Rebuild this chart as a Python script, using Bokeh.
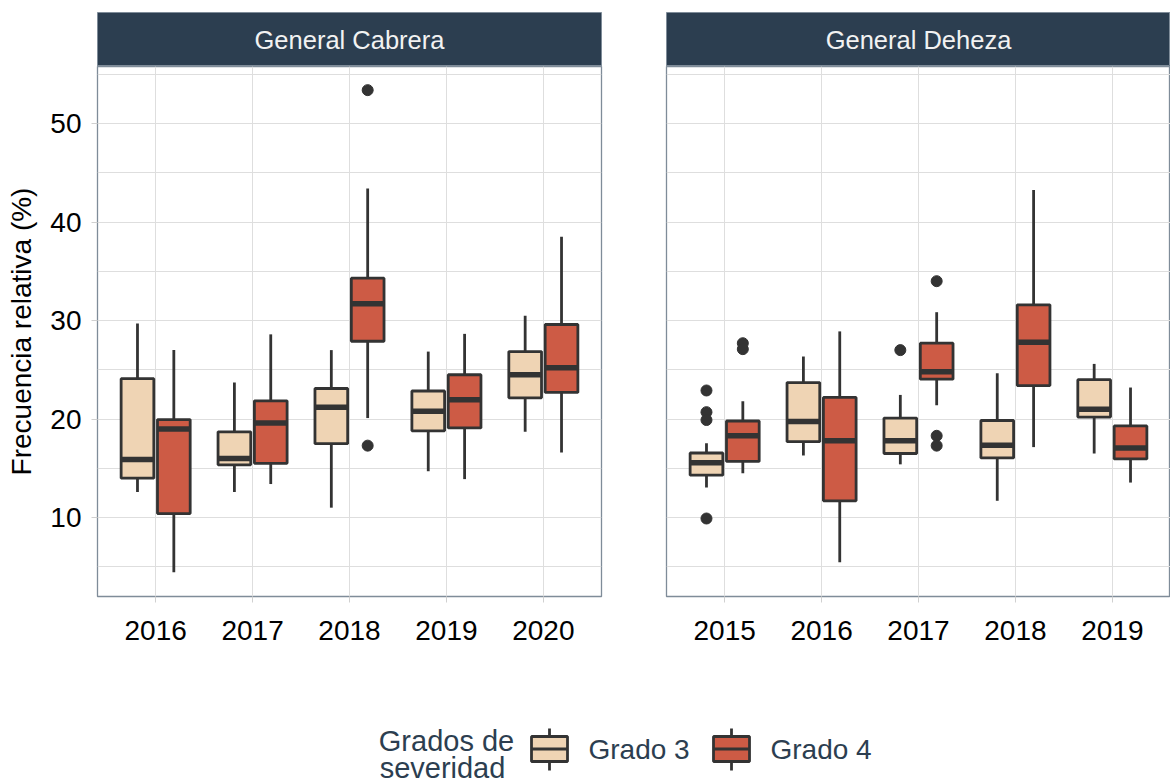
from bokeh.plotting import figure
from bokeh.models import FactorRange, Range1d, FixedTicker, ColumnDataSource
from bokeh.transform import dodge
from bokeh.layouts import column, row
from bokeh.core.properties import value
from bokeh.embed import file_html
from bokeh.resources import INLINE

FONT = "Liberation Sans"
C3 = "#EFD4B4"
C4 = "#CD5B45"
LINE = "#333333"
NAVY = "#2C3E50"
GRID = "#DEDEDE"
TICK = "#D0D0D0"
BORDER = "#7F8C99"

# ---------------- data ----------------
cab_years = ["2016", "2017", "2018", "2019", "2020"]
cab_g3_hi = [29.7, 23.7, 27.0, 26.85, 30.5]
cab_g3_q3 = [24.1, 18.7, 23.1, 22.85, 26.85]
cab_g3_med = [15.9, 16.0, 21.2, 20.8, 24.5]
cab_g3_q1 = [14.0, 15.35, 17.5, 18.8, 22.15]
cab_g3_lo = [12.6, 12.6, 11.0, 14.7, 18.7]
cab_g4_hi = [27.0, 28.6, 43.4, 28.65, 38.5]
cab_g4_q3 = [19.95, 21.85, 34.3, 24.5, 29.6]
cab_g4_med = [19.0, 19.6, 31.7, 21.95, 25.2]
cab_g4_q1 = [10.4, 15.5, 27.9, 19.1, 22.7]
cab_g4_lo = [4.45, 13.4, 20.1, 13.9, 16.6]
cab_g3_out_x = []
cab_g3_out_y = []
cab_g4_out_x = ["2018", "2018"]
cab_g4_out_y = [53.4, 17.3]

deh_years = ["2015", "2016", "2017", "2018", "2019"]
deh_g3_hi = [17.55, 26.35, 22.45, 24.65, 25.6]
deh_g3_q3 = [16.55, 23.7, 20.1, 19.85, 24.0]
deh_g3_med = [15.55, 19.75, 17.8, 17.35, 21.0]
deh_g3_q1 = [14.3, 17.7, 16.5, 16.05, 20.2]
deh_g3_lo = [13.05, 16.3, 15.4, 11.7, 16.5]
deh_g4_hi = [21.8, 28.9, 30.85, 43.25, 23.2]
deh_g4_q3 = [19.8, 22.2, 27.7, 31.6, 19.3]
deh_g4_med = [18.3, 17.8, 24.8, 27.8, 17.05]
deh_g4_q1 = [15.7, 11.7, 24.05, 23.4, 15.95]
deh_g4_lo = [14.5, 5.45, 21.4, 17.15, 13.55]
deh_g3_out_x = ["2015", "2015", "2015", "2015", "2017"]
deh_g3_out_y = [22.9, 20.7, 19.9, 9.9, 27.0]
deh_g4_out_x = ["2015", "2015", "2017", "2017", "2017"]
deh_g4_out_y = [27.7, 27.1, 34.0, 18.3, 17.3]

y_ticks = [10, 20, 30, 40, 50]
y_minor = [5, 15, 25, 35, 45, 55]
y_label = "Frecuencia relativa (%)"
facets = ["General Cabrera", "General Deheza"]
legend_title = ["Grados de", "severidad"]
legend_labels = ["Grado 3", "Grado 4"]

DODGE = 0.1875
BOXW = 0.3375
LW = 2.8


def make_panel(years, g3, g4, out3, out4, width, left, right, show_y):
    p = figure(x_range=FactorRange(factors=years, range_padding=0.1,
                                   range_padding_units="absolute"),
               y_range=Range1d(1.98, 55.8), width=width, height=634,
               output_backend="svg", toolbar_location=None,
               min_border_left=left, min_border_right=right,
               min_border_top=0, min_border_bottom=104,
               background_fill_color="white", border_fill_color="white")
    p.outline_line_color = BORDER
    p.outline_line_width = 1.3
    tk = FixedTicker(ticks=y_ticks, minor_ticks=y_minor)
    p.yaxis.ticker = tk
    p.ygrid.ticker = tk
    p.ygrid.grid_line_color = GRID
    p.ygrid.minor_grid_line_color = GRID
    p.xgrid.grid_line_color = GRID

    for ax in (p.xaxis, p.yaxis):
        ax.axis_line_color = None
        ax.minor_tick_line_color = None
        ax.major_tick_in = 0
        ax.major_tick_out = 6
        ax.major_tick_line_color = TICK
        ax.major_label_text_font = FONT
        ax.major_label_text_font_size = "28px"
        ax.major_label_text_color = "#000000"
    p.xaxis.major_label_standoff = 18
    p.yaxis.major_label_standoff = 10
    if show_y:
        p.yaxis.axis_label = y_label
        p.yaxis.axis_label_text_font = FONT
        p.yaxis.axis_label_text_font_size = "28px"
        p.yaxis.axis_label_text_font_style = "normal"
        p.yaxis.axis_label_text_color = "#000000"
        p.yaxis.axis_label_standoff = 10
    else:
        p.yaxis.visible = False

    for d, off, color, out in ((g3, -DODGE, C3, out3), (g4, DODGE, C4, out4)):
        lo, q1, med, q3, hi = d
        src = ColumnDataSource(dict(x=years, lo=lo, q1=q1, med=med, q3=q3, hi=hi))
        xd = dodge("x", off, range=p.x_range)
        p.segment(x0=xd, x1=xd, y0="hi", y1="q3", source=src,
                  line_color=LINE, line_width=LW)
        p.segment(x0=xd, x1=xd, y0="lo", y1="q1", source=src,
                  line_color=LINE, line_width=LW)
        p.vbar(x=xd, width=BOXW, top="q3", bottom="q1", source=src,
               fill_color=color, line_color=LINE, line_width=LW)
        p.segment(x0=dodge("x", off - BOXW / 2, range=p.x_range),
                  x1=dodge("x", off + BOXW / 2, range=p.x_range),
                  y0="med", y1="med", source=src,
                  line_color=LINE, line_width=5.5, line_cap="butt")
        ox, oy = out
        if ox:
            osrc = ColumnDataSource(dict(x=ox, y=oy))
            p.scatter(x=dodge("x", off, range=p.x_range), y="y", source=osrc,
                      size=11, fill_color=LINE, line_color=LINE)
    return p


def make_strip(name, width, left, right):
    s = figure(x_range=Range1d(0, 1), y_range=Range1d(0, 1), width=width, height=66,
               min_border_left=left, min_border_right=right, min_border_top=12,
               min_border_bottom=0, output_backend="svg", toolbar_location=None,
               x_axis_location=None, y_axis_location=None,
               background_fill_color=NAVY, border_fill_color="white")
    s.grid.visible = False
    s.outline_line_color = BORDER
    s.text(x=[0.5], y=[0.5], text=[name], text_align="center", text_baseline="middle",
           text_font=value(FONT), text_font_size="25.5px", text_color="#F2F2F2")
    return s


pL = make_panel(cab_years,
                (cab_g3_lo, cab_g3_q1, cab_g3_med, cab_g3_q3, cab_g3_hi),
                (cab_g4_lo, cab_g4_q1, cab_g4_med, cab_g4_q3, cab_g4_hi),
                (cab_g3_out_x, cab_g3_out_y), (cab_g4_out_x, cab_g4_out_y),
                633, 97, 32, True)
pR = make_panel(deh_years,
                (deh_g3_lo, deh_g3_q1, deh_g3_med, deh_g3_q3, deh_g3_hi),
                (deh_g4_lo, deh_g4_q1, deh_g4_med, deh_g4_q3, deh_g4_hi),
                (deh_g3_out_x, deh_g3_out_y), (deh_g4_out_x, deh_g4_out_y),
                537, 33, 0, False)
sL = make_strip(facets[0], 633, 97, 32)
sR = make_strip(facets[1], 537, 33, 0)

# ---------------- legend ----------------
lg = figure(x_range=Range1d(0, 1170), y_range=Range1d(782, 700), width=1170, height=82,
            min_border_left=0, min_border_right=0, min_border_top=0, min_border_bottom=0,
            output_backend="svg", toolbar_location=None,
            x_axis_location=None, y_axis_location=None)
lg.grid.visible = False
lg.outline_line_color = None
lg.text(x=[446, 442], y=[740, 767], text=legend_title, text_align="center",
        text_baseline="middle", text_font=value(FONT), text_font_size="29px",
        text_color=NAVY)
key_cx = [549, 731]
key_src = ColumnDataSource(dict(cx=key_cx, l=[531, 713], r=[567, 749],
                                fill=[C3, C4]))
lg.segment(x0="cx", x1="cx", y0=728, y1=770, source=key_src, line_color=LINE, line_width=LW)
lg.quad(left="l", right="r", top=736, bottom=761, source=key_src,
        fill_color="fill", line_color=LINE, line_width=LW)
lg.segment(x0="l", x1="r", y0=748.5, y1=748.5, source=key_src, line_color=LINE, line_width=LW)
lg.text(x=[588, 770], y=[749, 749], text=legend_labels, text_align="left",
        text_baseline="middle", text_font=value(FONT), text_font_size="28px",
        text_color=NAVY)

layout = column(row(sL, sR), row(pL, pR), lg)
open("out.html", "w").write(file_html(layout, INLINE))
